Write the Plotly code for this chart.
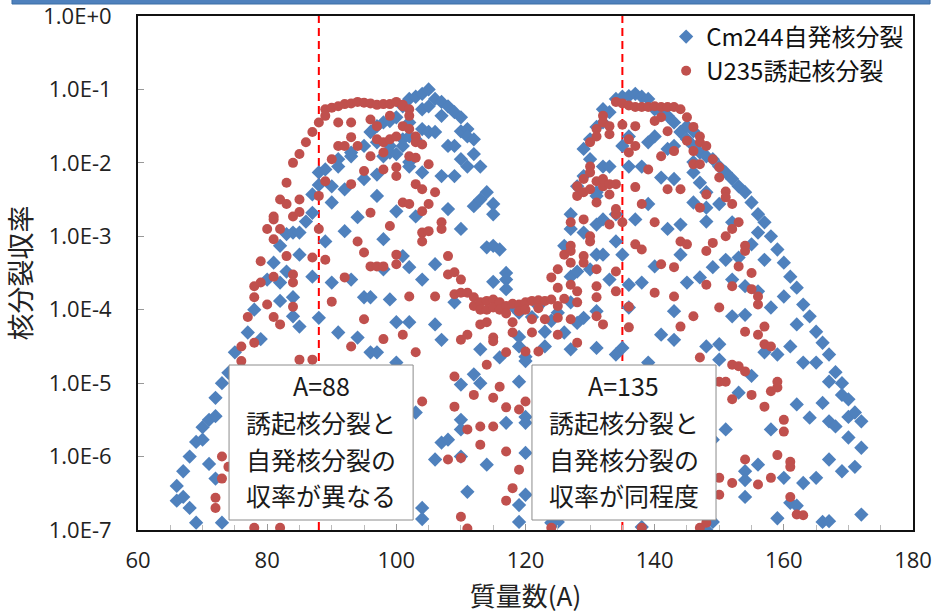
import plotly.graph_objects as go

# ---- data (mass number, log10 of fission yield) ----
cm244_mass = [66, 67, 68, 69, 70, 71, 72, 73, 74, 75, 77, 78, 79, 80, 81, 82, 83, 84, 85, 86,
              87, 88, 89, 90, 91, 92, 93, 94, 95, 96, 97, 98, 99, 100, 101, 102, 103, 104, 105, 106,
              107, 108, 109, 110, 111, 112, 113, 114, 115, 116, 117, 118, 119, 120, 121, 122, 123, 124, 125, 126,
              127, 128, 129, 130, 131, 132, 133, 134, 135, 136, 137, 138, 139, 140, 141, 142, 143, 144, 145, 146,
              147, 148, 149, 150, 151, 152, 153, 154, 155, 156, 157, 158, 159, 160, 161, 162, 163, 164, 165, 166,
              167, 168, 169, 170, 171, 172]
cm244_log10_yields = [
    [-6.4, -6.6], [-6.55, -6.2], [-6.7, -6.0], [-6.9, -5.8], [-5.77, -5.6], [-6.1, -5.5],
    [-5.45, -5.2, -6.3], [-5.0, -6.9], [-4.86], [-4.58], [-4.31], [-4.0], [-4.4], [-3.59], [-3.36],
    [-3.13, -3.63, -3.88], [-2.97, -3.48], [-2.95, -3.83, -4.09], [-2.95, -3.25, -4.23], [-2.8],
    [-2.68, -2.43, -3.55], [-2.3, -2.13, -4.11], [-3.07, -2.09], [-2.54, -3.63, -2.32],
    [-4.31, -2.05, -1.95], [-2.93, -2.36], [-3.59, -1.91, -1.86], [-2.74, -4.38],
    [-3.83, -1.77, -2.22], [-3.83, -4.58, -1.58], [-2.45, -4.58, -1.5, -1.72, -2.16],
    [-3.04, -3.45, -1.45, -1.91], [-3.86, -1.43, -1.77, -1.86], [-2.66, -4.17, -4.72, -1.38, -1.88],
    [-3.27, -1.68, -1.77, -1.23], [-3.42, -4.17, -1.13, -1.45, -1.99, -2.05, -1.64],
    [-2.73, -1.1, -1.68, -5.4], [-3.59, -1.06, -1.27, -1.54, -2.13, -6.7, -6.85],
    [-1.0, -1.23, -1.58], [-1.13, -1.58, -3.38, -4.2, -6.04], [-1.17, -1.36, -2.18, -4.41, -5.81],
    [-1.23, -1.77, -2.63, -5.77], [-1.31, -1.77, -2.18, -3.9],
    [-1.38, -1.57, -1.95, -2.9, -5.02, -5.5, -5.63, -6.0], [-1.54, -1.64, -2.05, -6.48],
    [-1.68, -1.88, -2.59, -4.88], [-2.05, -2.5, -4.54, -5.0], [-2.4, -3.15, -6.11],
    [-2.56, -2.7, -3.13, -3.62], [-3.18, -4.65], [-3.5, -3.59, -3.72, -5.54], [-3.95],
    [-4.04, -4.5, -4.37, -4.98, -6.66, -6.89], [-4.64, -4.7, -5.46, -5.54, -5.95, -6.52],
    [-4.1], [-3.95], [-4.3, -4.5], [-6.9, -4.15], [-4.04, -6.89], [-3.13, -4.31],
    [-2.9, -2.7, -3.9, -3.55, -4.54], [-2.32, -3.48, -4.18], [-2.95, -4.11, -2.18, -1.81],
    [-3.45, -1.68, -1.95], [-2.4, -2.45, -2.84, -3.25, -4.02, -4.52, -1.51],
    [-2.77, -3.25, -1.45, -2.05, -1.27], [-3.59, -1.31, -2.05], [-2.7, -3.07, -4.61, -1.13],
    [-3.25, -4.52, -1.1, -1.77], [-3.66, -3.97, -1.09, -1.64, -2.05], [-2.77, -1.06],
    [-3.63, -1.1, -2.05, -6.96], [-2.56, -4.72, -1.13, -1.72], [-3.41, -1.27, -1.64],
    [-1.31, -4.34, -2.2], [-2.9, -1.36, -1.81], [-4.02, -4.41, -1.45, -1.77, -2.22],
    [-2.84, -3.25, -1.58], [-1.5, -3.63, -1.68], [-1.57, -1.99, -2.13, -2.54, -1.77],
    [-3.56, -2.27, -1.86], [-2.61, -2.8, -4.5, -7.0, -1.91, -2.4], [-3.42, -5.77, -6.89, -1.95],
    [-2.56, -4.47, -4.68, -2.05], [-3.32, -5.63, -2.13], [-2.81, -3.59, -4.09, -2.22],
    [-3.29, -5.13, -2.32], [-3.68, -4.07, -2.4, -6.2, -6.32, -6.55], [-3.11, -4.9, -2.54],
    [-2.95, -3.75, -2.7, -6.11], [-3.32, -4.58, -2.81], [-3.97, -3.0, -5.63],
    [-4.61, -3.18, -6.84], [-3.82, -3.36, -6.29], [-4.5, -3.55, -6.63], [-4.2, -3.7, -5.29, -6.67],
    [-4.72, -3.93, -6.36], [-4.09, -5.47], [-4.72, -4.3, -6.29], [-4.45, -5.27, -6.89],
    [-4.61, -4.98, -5.52, -6.04, -6.88], [-4.85, -5.59], [-5.0, -5.16, -6.2],
    [-5.22, -5.46, -5.74], [-5.4, -6.14], [-5.52, -5.88, -6.79],
]

u235_mass = [72, 73, 74, 76, 77, 78, 79, 80, 81, 82, 83, 84, 85, 86, 87, 88, 89, 90, 91, 92,
             93, 94, 95, 96, 97, 98, 99, 100, 101, 102, 103, 104, 105, 106, 107, 108, 109, 110, 111, 112,
             113, 114, 115, 116, 117, 118, 119, 120, 121, 122, 123, 124, 125, 126, 127, 128, 129, 130, 131, 132,
             133, 134, 135, 136, 137, 138, 139, 140, 141, 142, 143, 144, 145, 146, 147, 148, 149, 150, 151, 152,
             153, 154, 155, 156, 157, 158, 159, 160, 161, 162, 163]
u235_log10_yields = [
    [-6.56, -6.7], [-6.0, -6.3], [-6.14], [-4.5, -4.7], [-4.1], [-4.45, -3.68, -3.83, -6.97],
    [-3.34, -3.63], [-2.9, -3.93], [-2.73, -3.04, -3.55, -4.1, -2.77], [-2.5, -2.9, -4.2, -6.97],
    [-2.27, -2.56, -3.27], [-2.73, -2.0, -3.52, -3.63, -3.96], [-2.67, -2.5, -1.88, -4.68], [-1.72],
    [-1.58, -3.29, -4.68], [-1.45, -2.45, -2.9], [-1.27, -1.36, -3.32, -2.25], [-3.89, -1.95, -1.25],
    [-1.23, -1.45, -1.77], [-1.2, -3.56, -1.77], [-1.45, -1.65, -4.5, -2.29, -1.19],
    [-1.17, -3.07, -1.77], [-3.22, -4.13, -2.11, -1.18], [-1.41, -2.68, -3.41, -1.91, -1.19],
    [-1.21, -1.5, -3.41, -1.68], [-3.41, -1.72, -2.09, -1.86, -4.4, -1.2], [-1.2, -1.36, -2.86, -1.68],
    [-1.17, -3.25, -3.38, -1.64, -2.06, -2.18], [-1.21, -1.5, -4.34, -2.54, -1.23],
    [-1.36, -2.56, -3.82, -1.27, -1.54, -1.91], [-2.29, -4.58, -1.64, -1.72, -1.93],
    [-2.95, -3.07, -2.36, -1.75, -2.66, -5.25], [-2.56, -2.93, -2.02], [-2.4, -3.82], [-2.81, -2.9],
    [-3.27, -3.52, -6.04], [-3.49, -3.79, -4.91, -5.32], [-3.59, -3.77, -4.41, -6.02, -6.82],
    [-3.77, -4.34, -5.63, -6.98], [-3.83, -3.95, -5.16], [-3.9, -4.0, -4.2, -5.59, -5.84],
    [-3.88, -4.0, -4.17, -4.75], [-3.86, -3.97, -4.38, -4.43, -5.2, -5.59], [-3.9, -4.0, -5.05],
    [-3.95, -4.05, -4.58, -5.33, -5.93, -6.6], [-3.92, -4.17, -4.31, -6.43], [-3.93, -4.02, -5.36, -6.18],
    [-3.9, -4.0, -4.57, -5.25], [-3.88, -4.13, -4.31], [-3.87, -3.98, -4.57], [-3.88, -4.13],
    [-3.86, -3.56, -6.97], [-3.95, -4.11, -4.34, -3.7, -3.45], [-3.25, -3.85],
    [-3.13, -3.2, -2.81, -3.36, -4.13, -3.66], [-3.9, -4.45, -3.75, -2.45, -2.32],
    [-3.27, -3.36, -2.77, -2.4, -2.22], [-3.0, -3.07, -2.36, -1.72, -2.05, -2.13],
    [-2.54, -3.45, -3.68, -3.83, -4.09, -1.54, -1.64, -2.25], [-2.32, -4.2, -1.36, -1.45, -2.22],
    [-2.29, -2.43, -2.84, -1.5, -1.61], [-2.7, -2.63, -3.48, -3.75, -2.29, -1.17], [-2.81, -1.19, -1.48],
    [-3.96, -4.24, -1.22, -1.86, -1.68], [-2.33, -1.24, -1.5, -1.77, -3.11], [-2.56, -3.18, -1.24, -6.97],
    [-1.24, -2.09], [-2.81, -3.77, -1.23, -1.43], [-3.38, -1.24, -1.91, -1.38], [-2.36, -1.24, -1.57],
    [-3.42, -3.82, -1.24, -1.84], [-2.36, -4.23, -3.07, -1.27], [-3.11, -1.38, -1.7],
    [-4.09, -1.51, -1.84, -2.02], [-2.61, -4.65, -1.64, -1.72, -2.02, -6.97], [-2.43, -3.2, -3.66, -1.77, -6.9],
    [-3.09, -1.95], [-3.97, -2.06, -2.2, -6.29, -6.52, -4.98], [-2.39, -2.47, -3.0, -4.98],
    [-2.56, -2.9, -3.68, -4.75, -5.22, -6.36], [-2.81, -3.41, -4.77], [-3.13, -3.2, -4.3, -4.84, -6.04],
    [-3.5, -3.72, -5.16], [-3.82, -3.93, -4.34, -6.38], [-4.23, -4.47, -5.32], [-4.5, -5.11, -6.29],
    [-5.06, -4.98, -5.98], [-5.5, -5.66], [-6.07, -6.14, -6.55], [-6.79], [-6.8],
]

series_names = ["Cm244自発核分裂", "U235誘起核分裂"]
x_tick_vals = [60, 80, 100, 120, 140, 160, 180]
y_tick_vals = [1e-7, 1e-6, 1e-5, 1e-4, 1e-3, 1e-2, 1e-1, 1e0]
y_tick_text = ["1.0E-7", "1.0E-6", "1.0E-5", "1.0E-4", "1.0E-3", "1.0E-2", "1.0E-1", "1.0E+0"]
marker_masses = [88, 135]
note_lines = [["A=88", "誘起核分裂と", "自発核分裂の", "収率が異なる"],
              ["A=135", "誘起核分裂と", "自発核分裂の", "収率が同程度"]]
x_title = "質量数(A)"
y_title = "核分裂収率"


def flatten(masses, groups):
    xs, ys = [], []
    for m, g in zip(masses, groups):
        for v in g:
            xs.append(m)
            ys.append(10 ** v)
    return xs, ys


cm_x, cm_y = flatten(cm244_mass, cm244_log10_yields)
u_x, u_y = flatten(u235_mass, u235_log10_yields)

JP = "Noto Sans CJK JP, Noto Sans, sans-serif"
NUM = "Liberation Sans Narrow, Arial Narrow, Open Sans, sans-serif"

fig = go.Figure()
fig.add_trace(go.Scatter(x=cm_x, y=cm_y, mode="markers", name=series_names[0],
                         marker=dict(symbol="diamond", size=11, color="#4F81BD", line=dict(width=0))))
fig.add_trace(go.Scatter(x=u_x, y=u_y, mode="markers", name=series_names[1],
                         marker=dict(symbol="circle", size=10, color="#C0504D", line=dict(width=0))))

# plot area in pixels: x 138..913, y 16..530 (height 514)
PLOT_H = 514.0


def py(p):  # pixel row -> paper y
    return (530 - p) / PLOT_H


shapes = []
annotations = []
for m in marker_masses:
    shapes.append(dict(type="line", xref="x", yref="paper", x0=m, x1=m, y0=0, y1=1,
                       line=dict(color="#FF0000", width=2, dash="8px,5px"), layer="below"))
# note boxes (white, grey frame) centred on the marked mass numbers
box_half = 14.25
box_centres = [88.35, 135.25]
line_rows = [385, 422, 459, 495]
for c, lines in zip(box_centres, note_lines):
    shapes.append(dict(type="rect", xref="x", yref="paper", x0=c - box_half, x1=c + box_half,
                       y0=py(520), y1=py(365), fillcolor="white",
                       line=dict(color="#8c8c8c", width=1), layer="above"))
    for row, txt in zip(line_rows, lines):
        annotations.append(dict(x=c, xref="x", y=py(row), yref="paper", text=txt, showarrow=False,
                                xanchor="center", yanchor="middle",
                                font=dict(family=JP, size=25, color="#1a1a1a")))
# blue header strip at the very top of the slide
shapes.append(dict(type="rect", xref="paper", yref="paper", x0=-0.1626, x1=1.022, y0=py(4), y1=py(-4),
                   fillcolor="#4F81BD", line=dict(color="#3C6EA5", width=1), layer="above"))

fig.update_layout(
    width=943, height=613,
    margin=dict(l=138, r=30, t=16, b=83, autoexpand=False),
    paper_bgcolor="white", plot_bgcolor="white",
    showlegend=True,
    legend=dict(x=0.995, y=1.003, xanchor="right", yanchor="top", bgcolor="rgba(0,0,0,0)",
                font=dict(family=JP, size=24, color="#111"), itemwidth=30, tracegroupgap=0),
    shapes=shapes, annotations=annotations,
    xaxis=dict(range=[60, 180], tickvals=x_tick_vals, ticks="inside", ticklen=6, tickcolor="#999",
               minor=dict(dtick=5, ticks="inside", ticklen=5, tickcolor="#bbb"),
               showgrid=False, zeroline=False, showline=True, linecolor="#111", linewidth=2, mirror=True,
               automargin=False, ticklabeloverflow="allow",
               tickfont=dict(family=NUM, size=22, color="#222"), ticklabelstandoff=10,
               title=dict(text=x_title, font=dict(family=JP, size=26, color="#222"), standoff=18)),
    yaxis=dict(type="log", range=[-7, 0], tickvals=y_tick_vals, ticktext=y_tick_text,
               ticks="inside", ticklen=6, tickcolor="#999",
               showgrid=False, zeroline=False, showline=True, linecolor="#111", linewidth=2, mirror=True,
               automargin=False, ticklabeloverflow="allow",
               tickfont=dict(family=NUM, size=22, color="#222"), ticklabelstandoff=20,
               title=dict(text=y_title, font=dict(family=JP, size=27, color="#222"), standoff=6)),
)

fig.write_html("out.html", config={"displayModeBar": False},
               post_script="document.body.style.margin='0px';")
